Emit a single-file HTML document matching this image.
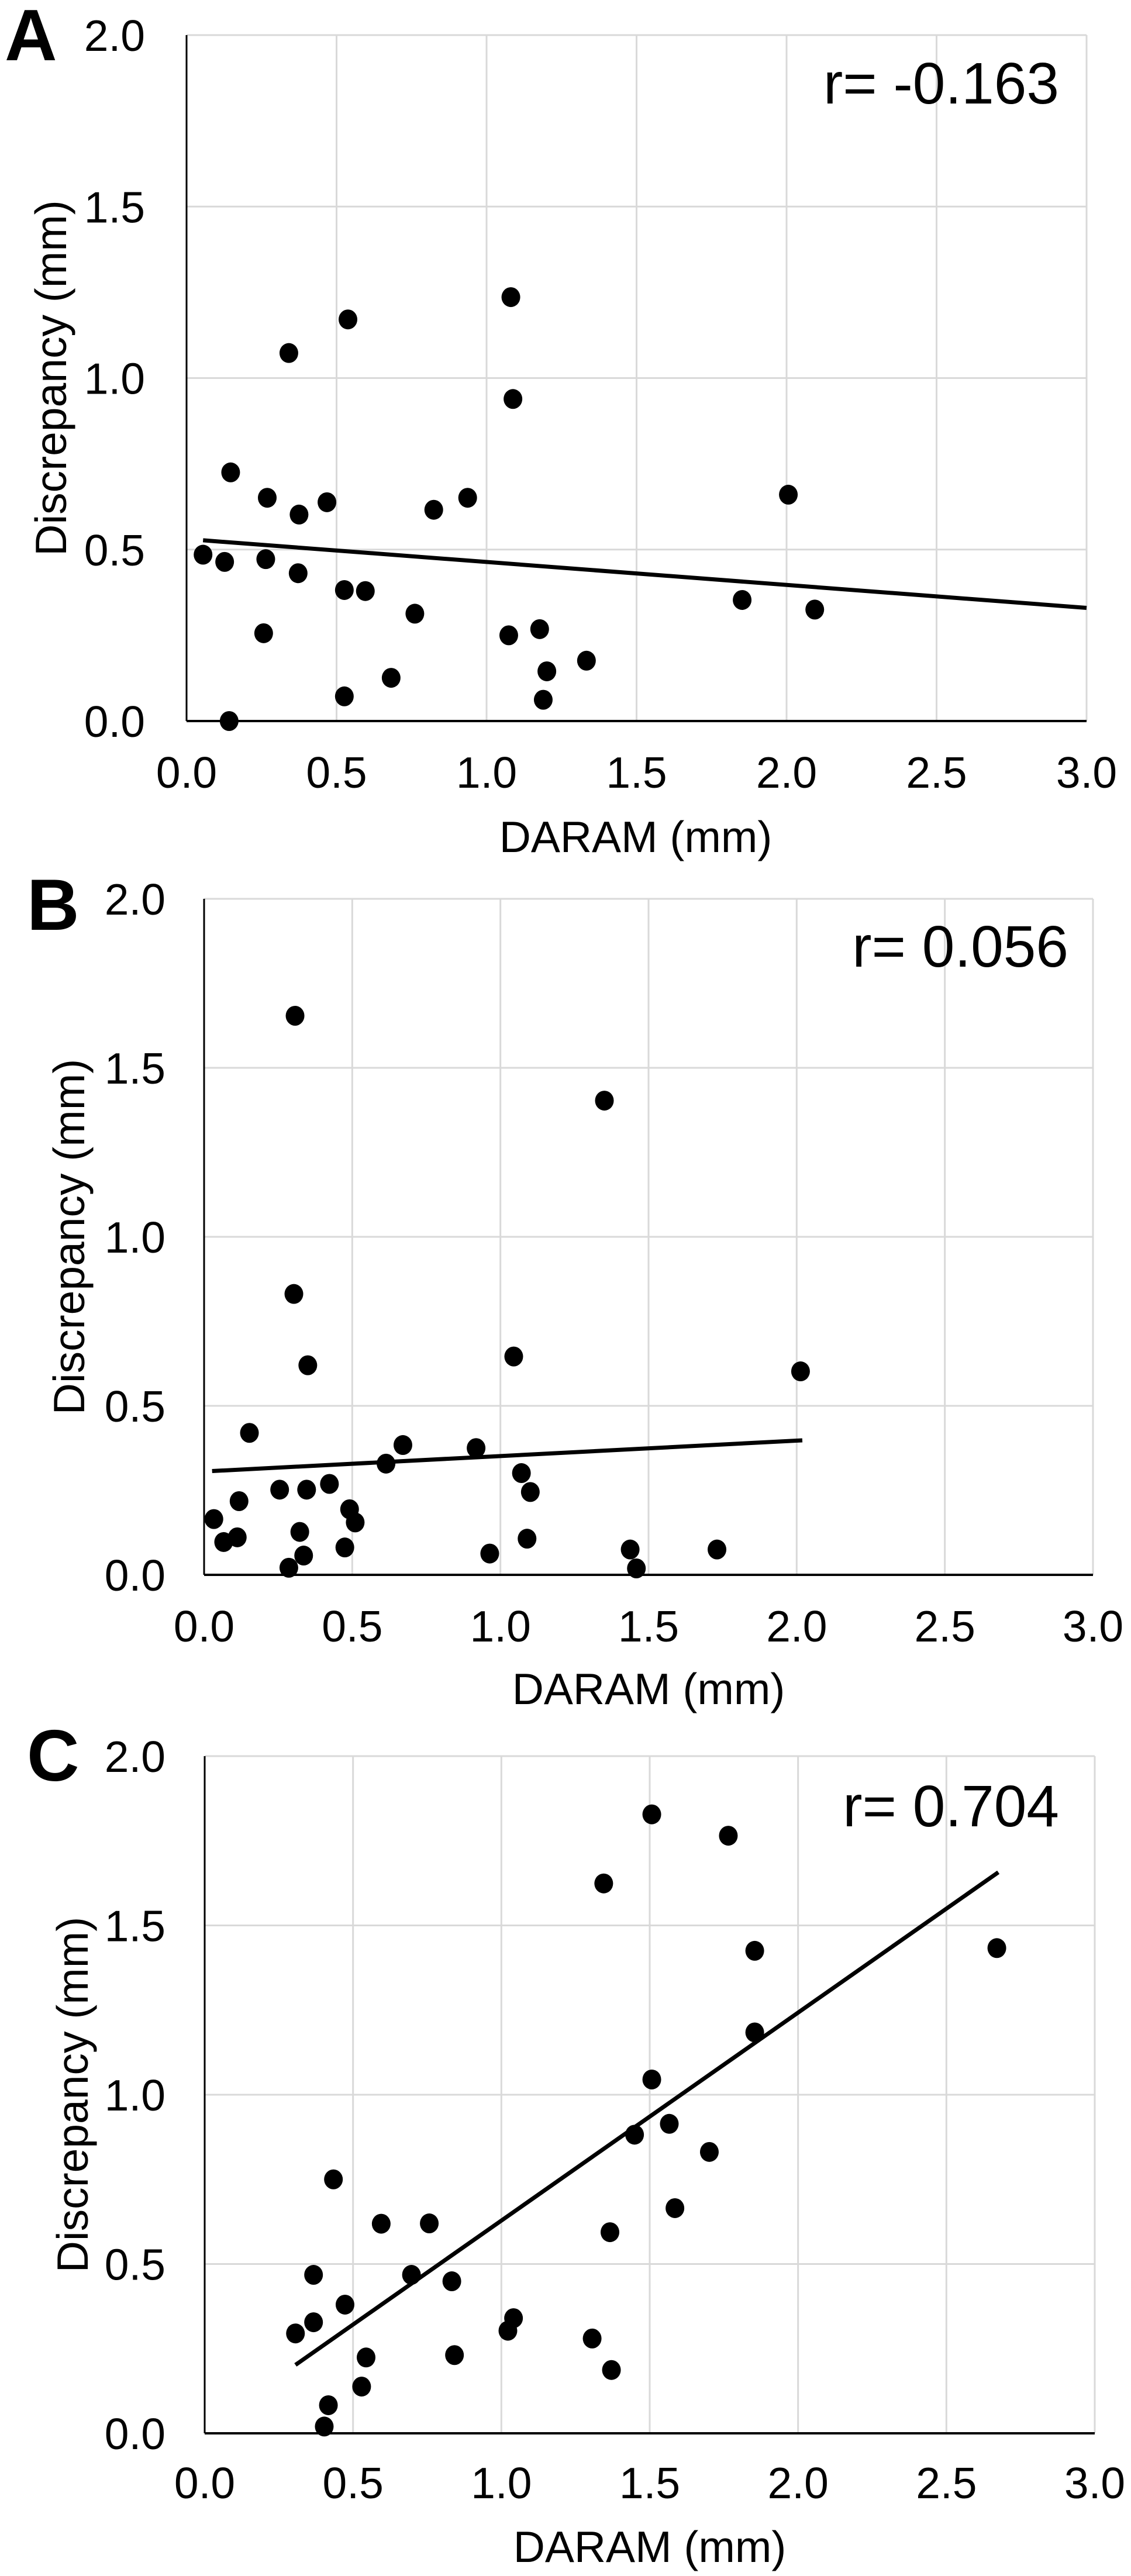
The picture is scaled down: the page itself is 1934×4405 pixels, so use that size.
<!DOCTYPE html>
<html><head><meta charset="utf-8"><style>
html,body{margin:0;padding:0;background:#fff;}
svg{display:block;font-family:"Liberation Sans",Arial,sans-serif;}
</style></head><body>
<svg id="fig" width="1934" height="4405" viewBox="0 0 1934 4405" xmlns="http://www.w3.org/2000/svg"></svg>
<script>
// Panel A data
const aDaram = [0.055,0.127,0.147,0.269,0.264,0.257,0.142,0.341,0.375,0.372,0.468,0.538,0.526,0.596,0.526,0.682,0.761,0.824,0.937,1.081,1.088,1.074,1.177,1.201,1.189,1.333,1.852,2.006,2.094];
const aDisc  = [0.485,0.464,0.725,0.651,0.472,0.256,0.0,1.073,0.602,0.431,0.638,1.171,0.382,0.379,0.072,0.126,0.313,0.616,0.651,1.236,0.939,0.250,0.268,0.145,0.062,0.176,0.353,0.660,0.325];
const aTrendX = [0.055,3.0];
const aTrendY = [0.527,0.330];
// Panel B data
const bDaram = [0.307,1.351,0.303,0.350,1.045,2.013,0.153,0.671,0.918,0.614,1.071,1.101,0.255,0.346,0.423,0.118,0.491,0.510,0.033,0.066,0.112,0.323,0.336,0.475,0.286,0.964,1.090,1.438,1.459,1.731];
const bDisc  = [1.654,1.403,0.831,0.620,0.646,0.602,0.420,0.384,0.375,0.329,0.301,0.245,0.252,0.252,0.269,0.218,0.194,0.155,0.165,0.097,0.111,0.127,0.057,0.081,0.021,0.063,0.107,0.075,0.019,0.075];
const bTrendX = [0.027,2.019];
const bTrendY = [0.307,0.398];
// Panel C data
const cDaram = [0.306,0.367,0.367,0.434,0.473,0.403,0.417,0.529,0.544,0.595,0.697,0.757,0.833,0.842,1.022,1.041,1.306,1.371,1.366,1.345,1.507,1.507,1.449,1.566,1.585,1.701,1.765,1.854,1.854,2.670];
const cDisc  = [0.295,0.468,0.328,0.750,0.380,0.020,0.083,0.138,0.224,0.619,0.468,0.620,0.449,0.231,0.303,0.340,0.280,0.187,0.594,1.624,1.828,1.045,0.882,0.914,0.665,0.831,1.765,1.425,1.184,1.433];
const cTrendX = [0.306,2.675];
const cTrendY = [0.202,1.657];
// Axis ticks
const xTicks = [0,0.5,1.0,1.5,2.0,2.5,3.0];
const xTickLabels = ["0.0","0.5","1.0","1.5","2.0","2.5","3.0"];
const yTicks = [0,0.5,1.0,1.5,2.0];
const yTickLabels = ["0.0","0.5","1.0","1.5","2.0"];
const rLabels = ["r= -0.163","r= 0.056","r= 0.704"];
const panelLetters = ["A","B","C"];

const NS = "http://www.w3.org/2000/svg";
const svg = document.getElementById("fig");
function mk(tag, attrs, parent){
  const e = document.createElementNS(NS, tag);
  for (const k in attrs) e.setAttribute(k, attrs[k]);
  (parent||svg).appendChild(e);
  return e;
}
const panels = [
  {L:319,R:1858,T:60,B:1233,ylabR:248,xlabY:1320,titleX:1087,titleY:1430,yTitleX:86,rRight:1811,rY:141,letX:8,letY:103,xs:aDaram,ys:aDisc,tx:aTrendX,ty:aTrendY},
  {L:349,R:1869,T:1537,B:2693,ylabR:283,xlabY:2780,titleX:1109,titleY:2887,yTitleX:117,rRight:1827,rY:1617,letX:46,letY:1590,xs:bDaram,ys:bDisc,tx:bTrendX,ty:bTrendY},
  {L:350,R:1872,T:3003,B:4161,ylabR:283,xlabY:4245,titleX:1111,titleY:4354,yTitleX:123,rRight:1811,rY:3087,letX:46,letY:3045,xs:cDaram,ys:cDisc,tx:cTrendX,ty:cTrendY}
];
panels.forEach((p, i) => {
  const g = mk("g", {});
  
  
  const sx = v => p.L + (p.R - p.L) * v / 3;
  const sy = v => p.B - (p.B - p.T) * v / 2;
  xTicks.forEach((t, j) => {
    if (j === 0) return;
    const l = mk("line", {x1:sx(t), x2:sx(t), y1:p.T, y2:p.B, stroke:"#d9d9d9", "stroke-width":3}, g);
    
    
  });
  yTicks.forEach((t, j) => {
    if (j === 0) return;
    const l = mk("line", {x1:p.L, x2:p.R, y1:sy(t), y2:sy(t), stroke:"#d9d9d9", "stroke-width":3}, g);
    
    
  });
  const ya = mk("line", {x1:p.L, x2:p.L, y1:p.T, y2:p.B, stroke:"#000", "stroke-width":3}, g);
  
  
  const xa = mk("line", {x1:p.L, x2:p.R, y1:p.B, y2:p.B, stroke:"#000", "stroke-width":4}, g);
  
  
  xTicks.forEach((t, j) => {
    const tx = mk("text", {x:sx(t), y:p.xlabY + 27, "font-size":75, "text-anchor":"middle", fill:"#000"}, g);
    tx.textContent = xTickLabels[j];
    
    
  });
  yTicks.forEach((t, j) => {
    const tx = mk("text", {x:p.ylabR, y:sy(t) + 27, "font-size":75, "text-anchor":"end", fill:"#000"}, g);
    tx.textContent = yTickLabels[j];
    
    
  });
  const xt = mk("text", {x:p.titleX, y:p.titleY + 27, "font-size":75, "text-anchor":"middle", fill:"#000"}, g);
  xt.textContent = "DARAM (mm)";
  
  
  const ymid = (p.T + p.B) / 2;
  const yt = mk("text", {x:p.yTitleX + 27, y:ymid, "font-size":75, "text-anchor":"middle", fill:"#000", transform:"rotate(-90 " + (p.yTitleX + 27) + " " + ymid + ")"}, g);
  yt.textContent = "Discrepancy (mm)";
  
  
  const lt = mk("text", {x:p.letX, y:p.letY, "font-size":124, "font-weight":"bold", fill:"#000"}, g);
  lt.textContent = panelLetters[i];
  
  
  const rt = mk("text", {x:p.rRight, y:p.rY + 36, "font-size":100, "text-anchor":"end", fill:"#000"}, g);
  rt.textContent = rLabels[i];
  
  
  const tl = mk("line", {x1:sx(p.tx[0]), y1:sy(p.ty[0]), x2:sx(p.tx[1]), y2:sy(p.ty[1]), stroke:"#000", "stroke-width":7}, g);
  
  
  p.xs.forEach((x, k) => {
    const c = mk("ellipse", {cx:sx(x), cy:sy(p.ys[k]), rx:16, ry:17, fill:"#000"}, g);
    
    
  });
});
</script>
</body></html>
